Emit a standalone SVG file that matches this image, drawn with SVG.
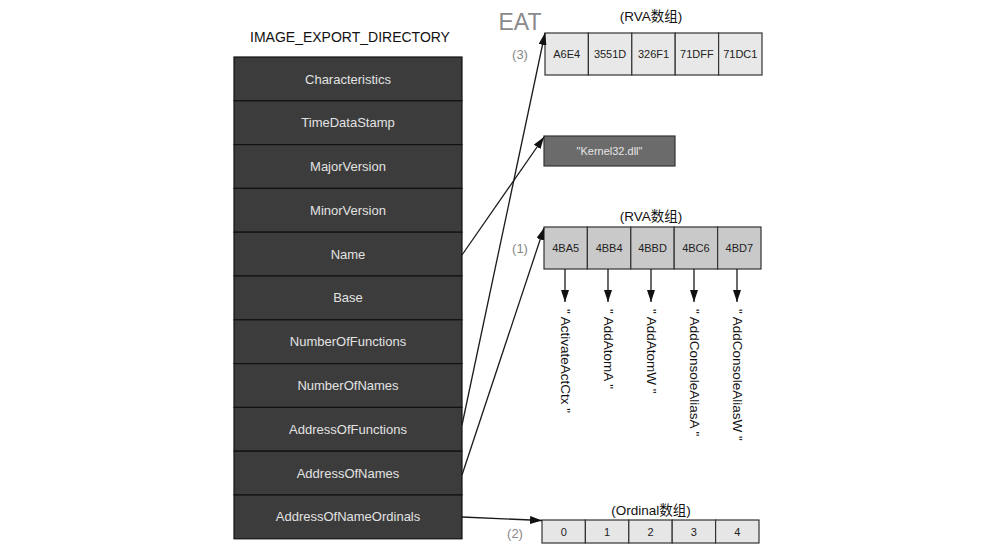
<svg xmlns="http://www.w3.org/2000/svg" width="998" height="554" viewBox="0 0 998 554">
<style>
  .title{font-family:"Liberation Sans",Arial,sans-serif;font-size:14px;fill:#111;text-anchor:middle}
  .row{fill:#3c3c3c;stroke:#111;stroke-width:1.2}
  .rowt{font-family:"Liberation Sans",Arial,sans-serif;font-size:13px;fill:#e2e2e2;text-anchor:middle;dominant-baseline:central}
  .cell{stroke:#333;stroke-width:1.2}
  .eat{fill:#e8e8e8}
  .rva{fill:#c9c9c9}
  .ord{fill:#e6e6e6}
  .cellt{font-family:"Liberation Sans",Arial,sans-serif;font-size:11px;fill:#222;text-anchor:middle;dominant-baseline:central}
  .cap{font-family:"Liberation Sans",Arial,sans-serif,"Noto Sans CJK SC";font-size:13.5px;fill:#111;text-anchor:middle}
  .num{font-family:"Liberation Sans",Arial,sans-serif;font-size:13px;fill:#888;text-anchor:middle;dominant-baseline:central}
  .vt{font-family:"Liberation Sans",Arial,sans-serif;font-size:13.5px;fill:#111;dominant-baseline:central}
  .conn line{stroke:#1a1a1a;stroke-width:1.3;fill:none}
</style>
<defs>
  <marker id="ah" markerUnits="userSpaceOnUse" markerWidth="12" markerHeight="8" refX="12" refY="4" orient="auto">
    <path d="M0,0 L12,4 L0,8 z" fill="#111"/>
  </marker>
</defs>
<rect width="998" height="554" fill="#fff"/>

<text class="title" x="350" y="42">IMAGE_EXPORT_DIRECTORY</text>

<g id="export-directory">
  <rect class="row" x="234" y="57" width="228" height="43.8"/>
  <rect class="row" x="234" y="100.8" width="228" height="43.8"/>
  <rect class="row" x="234" y="144.6" width="228" height="43.8"/>
  <rect class="row" x="234" y="188.4" width="228" height="43.8"/>
  <rect class="row" x="234" y="232.2" width="228" height="43.8"/>
  <rect class="row" x="234" y="276" width="228" height="43.8"/>
  <rect class="row" x="234" y="319.8" width="228" height="43.8"/>
  <rect class="row" x="234" y="363.6" width="228" height="43.8"/>
  <rect class="row" x="234" y="407.4" width="228" height="43.8"/>
  <rect class="row" x="234" y="451.2" width="228" height="43.8"/>
  <rect class="row" x="234" y="495" width="228" height="43.8"/>
  <text class="rowt" x="348" y="79">Characteristics</text>
  <text class="rowt" x="348" y="122.7">TimeDataStamp</text>
  <text class="rowt" x="348" y="166.5">MajorVersion</text>
  <text class="rowt" x="348" y="210.3">MinorVersion</text>
  <text class="rowt" x="348" y="254.1">Name</text>
  <text class="rowt" x="348" y="297.9">Base</text>
  <text class="rowt" x="348" y="341.7">NumberOfFunctions</text>
  <text class="rowt" x="348" y="385.5">NumberOfNames</text>
  <text class="rowt" x="348" y="429.3">AddressOfFunctions</text>
  <text class="rowt" x="348" y="473.1">AddressOfNames</text>
  <text class="rowt" x="348" y="516.9">AddressOfNameOrdinals</text>
</g>

<g id="eat-array">
  <text x="520" y="30" font-family="'Liberation Sans',Arial,sans-serif" font-size="23" fill="#8a8a8a" text-anchor="middle">EAT</text>
  <text class="cap" x="651" y="21">(RVA数组)</text>
  <text class="num" x="520" y="54">(3)</text>
  <rect class="cell eat" x="545" y="33" width="43.4" height="42"/>
  <rect class="cell eat" x="588.4" y="33" width="43.4" height="42"/>
  <rect class="cell eat" x="631.8" y="33" width="43.4" height="42"/>
  <rect class="cell eat" x="675.2" y="33" width="43.4" height="42"/>
  <rect class="cell eat" x="718.6" y="33" width="43.4" height="42"/>
  <text class="cellt" x="566.7" y="54">A6E4</text>
  <text class="cellt" x="610.1" y="54">3551D</text>
  <text class="cellt" x="653.5" y="54">326F1</text>
  <text class="cellt" x="696.9" y="54">71DFF</text>
  <text class="cellt" x="740.3" y="54">71DC1</text>
</g>

<g id="dll-name">
  <rect x="544" y="136" width="131" height="30" fill="#6b6b6b" stroke="#333" stroke-width="1.2"/>
  <text x="609.5" y="151" font-family="'Liberation Sans',Arial,sans-serif" font-size="11" fill="#e6e6e6" text-anchor="middle" dominant-baseline="central">"Kernel32.dll"</text>
</g>

<g id="name-rva-array">
  <text class="cap" x="651" y="221">(RVA数组)</text>
  <text class="num" x="520" y="248">(1)</text>
  <rect class="cell rva" x="544" y="227" width="43.4" height="42"/>
  <rect class="cell rva" x="587.4" y="227" width="43.4" height="42"/>
  <rect class="cell rva" x="630.8" y="227" width="43.4" height="42"/>
  <rect class="cell rva" x="674.2" y="227" width="43.4" height="42"/>
  <rect class="cell rva" x="717.6" y="227" width="43.4" height="42"/>
  <text class="cellt" x="565.7" y="248">4BA5</text>
  <text class="cellt" x="609.1" y="248">4BB4</text>
  <text class="cellt" x="652.5" y="248">4BBD</text>
  <text class="cellt" x="695.9" y="248">4BC6</text>
  <text class="cellt" x="739.3" y="248">4BD7</text>
</g>

<g id="function-names">
  <text class="vt" transform="translate(565,309) rotate(90)">" ActivateActCtx "</text>
  <text class="vt" transform="translate(608,309) rotate(90)">" AddAtomA "</text>
  <text class="vt" transform="translate(651,309) rotate(90)">" AddAtomW "</text>
  <text class="vt" transform="translate(694,309) rotate(90)">" AddConsoleAliasA "</text>
  <text class="vt" transform="translate(737,309) rotate(90)">" AddConsoleAliasW "</text>
</g>

<g id="ordinal-array">
  <text class="cap" x="651" y="515">(Ordinal数组)</text>
  <text class="num" x="515" y="533">(2)</text>
  <rect class="cell ord" x="542" y="520" width="43.4" height="23"/>
  <rect class="cell ord" x="585.4" y="520" width="43.4" height="23"/>
  <rect class="cell ord" x="628.8" y="520" width="43.4" height="23"/>
  <rect class="cell ord" x="672.2" y="520" width="43.4" height="23"/>
  <rect class="cell ord" x="715.6" y="520" width="43.4" height="23"/>
  <text class="cellt" x="563.7" y="532">0</text>
  <text class="cellt" x="607.1" y="532">1</text>
  <text class="cellt" x="650.5" y="532">2</text>
  <text class="cellt" x="693.9" y="532">3</text>
  <text class="cellt" x="737.3" y="532">4</text>
</g>

<g id="connectors" class="conn">
  <line x1="462" y1="255" x2="544" y2="137" marker-end="url(#ah)"/>
  <line x1="462" y1="425" x2="545" y2="33" marker-end="url(#ah)"/>
  <line x1="462" y1="475" x2="544" y2="228" marker-end="url(#ah)"/>
  <line x1="462" y1="517" x2="542" y2="520.5" marker-end="url(#ah)"/>
  <line x1="565" y1="269" x2="565" y2="302" marker-end="url(#ah)"/>
  <line x1="608" y1="269" x2="608" y2="302" marker-end="url(#ah)"/>
  <line x1="651" y1="269" x2="651" y2="302" marker-end="url(#ah)"/>
  <line x1="694" y1="269" x2="694" y2="302" marker-end="url(#ah)"/>
  <line x1="737" y1="269" x2="737" y2="302" marker-end="url(#ah)"/>
</g>
</svg>
